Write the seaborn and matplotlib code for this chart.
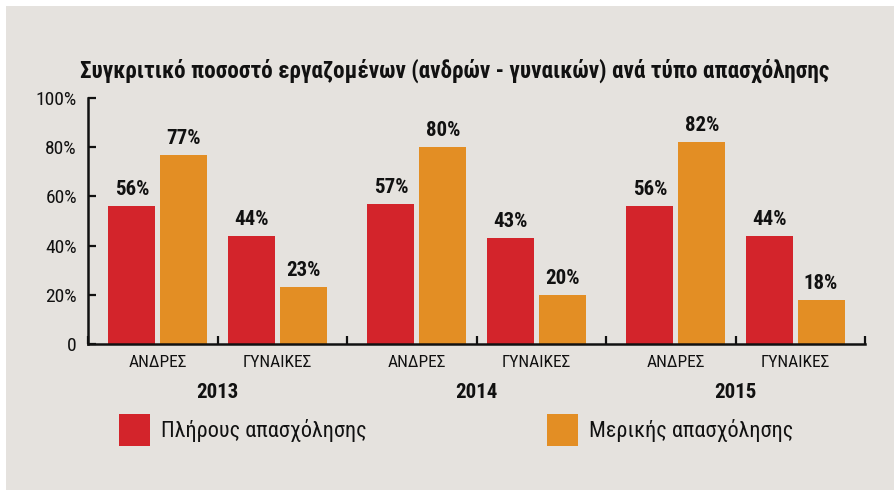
import matplotlib
matplotlib.use("Agg")
import matplotlib.pyplot as plt
from matplotlib import font_manager
from matplotlib.patches import Patch, Rectangle
import matplotlib.transforms as mtransforms
import pandas as pd
import seaborn as sns

# ---- data ----
years = ["2013", "2014", "2015"]
genders = ["ΑΝΔΡΕΣ", "ΓΥΝΑΙΚΕΣ"]
series_names = ["Πλήρους απασχόλησης", "Μερικής απασχόλησης"]
full_time = [56, 44, 57, 43, 56, 44]   # per (year, gender)
part_time = [77, 23, 80, 20, 82, 18]
title = "Συγκριτικό ποσοστό εργαζομένων (ανδρών - γυναικών) ανά τύπο απασχόλησης"
y_ticks = [0, 20, 40, 60, 80, 100]
y_tick_labels = ["0", "20%", "40%", "60%", "80%", "100%"]

RED = "#d3242b"
ORANGE = "#e38e24"
BG = "#e5e2de"
INK = "#111111"

sns.set_theme(style="white")
installed = {f.name for f in font_manager.fontManager.ttflist}
family = next((f for f in ["Roboto Condensed", "Liberation Sans Narrow",
                           "DejaVu Sans Condensed", "Open Sans Condensed"]
               if f in installed), "Roboto")
plt.rcParams["font.family"] = [family, "DejaVu Sans"]

# each year sits at an integer position; the two gender groups flank it
GENDER_SHIFT = 0.23
pos = [yi + (-GENDER_SHIFT if gi == 0 else GENDER_SHIFT)
       for yi in range(len(years)) for gi in range(len(genders))]
df = pd.DataFrame({
    "pos": pos * 2,
    "type": [series_names[0]] * len(pos) + [series_names[1]] * len(pos),
    "value": full_time + part_time,
})

fig = plt.figure(figsize=(8.94, 4.90), dpi=100)
fig.patch.set_facecolor("white")
fig.patches.append(Rectangle((6 / 894, 0), 1, (490 - 6) / 490, transform=fig.transFigure,
                             facecolor=BG, edgecolor="none", zorder=-10))
ax = fig.add_axes([88 / 894, (490 - 344) / 490, (865 - 88) / 894, (344 - 98) / 490])
ax.set_facecolor("none")

sns.barplot(data=df, x="pos", y="value", hue="type", hue_order=series_names,
            native_scale=True, palette=[RED, ORANGE], width=0.872, gap=0.096,
            saturation=1, linewidth=0, edgecolor="none", legend=False, ax=ax)

for cont in ax.containers:
    ax.bar_label(cont, fmt="%d%%", padding=5, fontsize=15, fontweight="bold",
                 color=INK)

ax.set_xlabel("")
ax.set_ylabel("")

# x axis: inward ticks every half year, gender labels under each bar pair
ax.set_xticks([i * 0.5 - 0.5 for i in range(2 * len(years) + 1)])
ax.set_xticklabels([])
ax.set_xticks(pos, minor=True)
ax.set_xticklabels([g for _ in years for g in genders], minor=True)
ax.tick_params(axis="x", which="major", direction="in", length=6, width=1.6,
               color=INK, bottom=True)
ax.tick_params(axis="x", which="minor", length=0, pad=8, labelsize=12.5,
               labelcolor=INK, bottom=True)

ax.set_yticks(y_ticks)
ax.set_yticklabels(y_tick_labels)
ax.tick_params(axis="y", direction="in", length=6, width=1.6, color=INK,
               labelsize=14, labelcolor=INK, pad=8, left=True)

ax.set_xlim(-0.5, len(years) - 0.5)
ax.set_ylim(0, 100)

for side in ["top", "right"]:
    ax.spines[side].set_visible(False)
for side in ["left", "bottom"]:
    ax.spines[side].set_color(INK)
    ax.spines[side].set_linewidth(1.8)
ax.spines["bottom"].set_bounds(-0.5, len(years) - 0.5)

trans = mtransforms.blended_transform_factory(ax.transData, fig.transFigure)
for k, y in enumerate(years):
    ax.text(k, (490 - 392) / 490, y, transform=trans, ha="center",
            va="center", fontsize=15, fontweight="bold", color=INK)

fig.text(455 / 894, (490 - 71) / 490, title, ha="center", va="center", fontsize=16.7,
         fontweight="bold", color=INK)

# legend: two entries placed under the axis
for name, color, x0 in [(series_names[0], RED, 119), (series_names[1], ORANGE, 547)]:
    leg = fig.legend(handles=[Patch(facecolor=color, edgecolor="none")], labels=[name],
                     loc="center left", bbox_to_anchor=(x0 / 894, (490 - 430) / 490),
                     frameon=False, fontsize=16, handlelength=1.4, handleheight=1.77,
                     handletextpad=0.5, borderpad=0, borderaxespad=0)
    for t in leg.get_texts():
        t.set_color(INK)

fig.savefig("out.png", dpi=100, facecolor=fig.get_facecolor())
